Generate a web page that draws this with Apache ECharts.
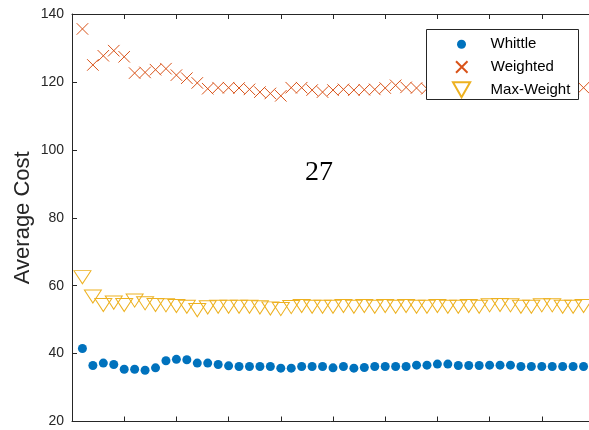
<!DOCTYPE html>
<html><head><meta charset="utf-8">
<script src="https://cdn.jsdelivr.net/npm/echarts@6/dist/echarts.min.js"></script>
<style>html,body{margin:0;padding:0;background:#fff}#c{width:589px;height:430px}</style>
</head><body><div id="c"></div>
<script>
const iterations = [1,2,3,4,5,6,7,8,9,10,11,12,13,14,15,16,17,18,19,20,21,22,23,24,25,26,27,28,29,30,31,32,33,34,35,36,37,38,39,40,41,42,43,44,45,46,47,48,49];
const whittle = [41.5,36.5,37.2,36.8,35.4,35.4,35.1,35.8,37.9,38.3,
                 38.2,37.2,37.2,36.8,36.4,36.2,36.2,36.2,36.2,35.7,
                 35.7,36.2,36.2,36.2,35.8,36.2,35.7,35.9,36.2,36.2,
                 36.2,36.2,36.6,36.6,36.9,36.9,36.5,36.5,36.5,36.6,
                 36.6,36.6,36.2,36.2,36.2,36.2,36.2,36.2,36.2];
const weighted = [135.6,125.0,127.7,129.2,127.4,122.6,122.8,123.6,123.9,122.0,
                  121.1,119.7,118.0,118.3,118.3,118.2,117.8,117.0,116.6,115.9,
                  118.3,118.3,117.6,117.0,117.6,117.8,117.6,117.7,117.8,118.2,
                  119.0,118.4,118.2,118.0,118.2,117.9,118.1,118.0,118.3,118.0,
                  117.9,118.2,118.1,118.0,118.2,117.9,118.1,118.0,118.3];
const maxWeight = [62.5,56.8,54.3,55.0,54.3,55.6,54.8,54.3,54.2,54.0,
                   53.8,52.8,53.6,53.8,53.8,53.8,53.8,53.6,53.3,53.1,
                   53.7,54.0,53.8,53.8,53.8,54.0,53.8,54.0,53.8,54.0,
                   53.8,54.0,53.8,53.8,54.0,53.8,53.8,54.0,53.8,54.2,
                   54.3,54.2,53.8,53.8,54.2,54.2,53.8,53.8,54.0];
const seriesNames = ['Whittle','Weighted','Max-Weight'];
const yAxisTitle = 'Average Cost';
const annotation = '27';

const AX = '#262626';
const FONT = 'Liberation Sans, Arial, sans-serif';
const pair = (xs, ys) => xs.map((x, i) => [x, ys[i]]);

const chart = echarts.init(document.getElementById('c'), null, {renderer: 'canvas'});
function xAxisDef(pos) {
  return {
    type: 'value', position: pos, min: 0, max: 50, interval: 5,
    axisLine: {show: true, onZero: false, lineStyle: {color: AX, width: 1}},
    axisTick: {show: true, inside: true, length: 5, lineStyle: {color: AX}},
    axisLabel: {show: false}, splitLine: {show: false}
  };
}
const legendBase = {
  orient: 'horizontal', padding: 0, itemWidth: 48, selectedMode: false,
  textStyle: {fontFamily: FONT, fontSize: 15, color: '#000', lineHeight: 24}
};
chart.setOption({
  animation: false,
  backgroundColor: '#fff',
  grid: {left: 72, top: 14, right: -5, bottom: 8.5, containLabel: false, outerBoundsMode: 'none'},
  xAxis: [xAxisDef('bottom'), xAxisDef('top')],
  yAxis: [
    {type: 'value', position: 'left', min: 20, max: 140, interval: 20,
     name: yAxisTitle, nameLocation: 'middle', nameGap: 38, nameMoveOverlap: false,
     nameTextStyle: {fontFamily: FONT, fontSize: 22, color: AX},
     axisLine: {show: true, onZero: false, lineStyle: {color: AX, width: 1}},
     axisTick: {show: true, inside: true, length: 5, lineStyle: {color: AX}},
     axisLabel: {show: true, margin: 8, fontFamily: FONT, fontSize: 14, color: AX},
     splitLine: {show: false}},
    {type: 'value', position: 'right', min: 20, max: 140, interval: 20,
     axisLine: {show: true, onZero: false, lineStyle: {color: AX, width: 1}},
     axisTick: {show: true, inside: true, length: 5, lineStyle: {color: AX}},
     axisLabel: {show: false}, splitLine: {show: false}}
  ],
  legend: [
    Object.assign({}, legendBase, {data: [seriesNames[0]], left: 457, top: 44.3 - 12, itemHeight: 9}),
    Object.assign({}, legendBase, {data: [seriesNames[1]], left: 455, top: 67 - 12, itemHeight: 11.5}),
    Object.assign({}, legendBase, {data: [seriesNames[2]], left: 452, top: 89.7 - 12, itemHeight: 15})
  ],
  graphic: [
    {type: 'rect', z: 3, shape: {x: 426.5, y: 29.5, width: 152, height: 70},
     style: {fill: '#fff', stroke: AX, lineWidth: 1}},
    {type: 'text', z: 5, x: 319, y: 173,
     style: {text: annotation, font: '28px "Liberation Serif", "DejaVu Serif", serif',
             fill: '#000', align: 'center', verticalAlign: 'middle'}}
  ],
  series: [
    {name: seriesNames[0], type: 'scatter', data: pair(iterations, whittle),
     symbol: 'circle', symbolSize: 9, z: 2,
     itemStyle: {color: '#0072BD', opacity: 1}},
    {name: seriesNames[1], type: 'scatter', data: pair(iterations, weighted),
     symbol: 'path://M0,0L10,10M10,0L0,10', symbolSize: 11.5, z: 2,
     itemStyle: {color: 'rgba(0,0,0,0)', borderColor: '#D95319', borderWidth: 1, opacity: 1}},
    {name: seriesNames[2], type: 'scatter', data: pair(iterations, maxWeight),
     symbol: 'path://M0,0L2,0L1,1.75Z', symbolSize: [17, 15], symbolKeepAspect: true, z: 2,
     itemStyle: {color: 'rgba(0,0,0,0)', borderColor: '#EDB120', borderWidth: 1, opacity: 1}}
  ]
});
</script>
</body></html>
